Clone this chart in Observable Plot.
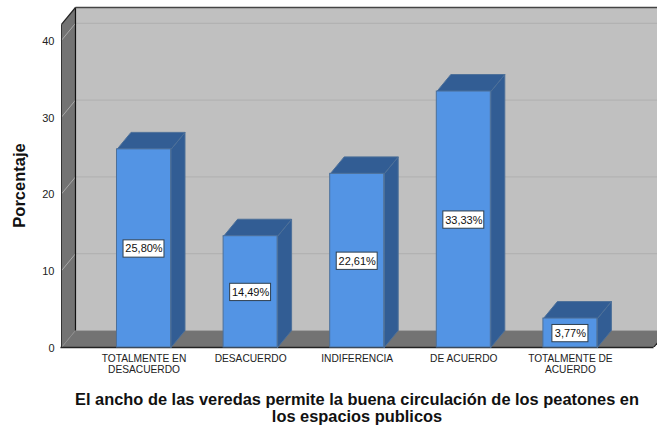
<!DOCTYPE html>
<html>
<head>
<meta charset="utf-8">
<script src="https://cdn.jsdelivr.net/npm/d3@7"></script>
<script src="https://cdn.jsdelivr.net/npm/@observablehq/plot@0.6"></script>
<style>
html,body{margin:0;padding:0;background:#fff;overflow:hidden}
svg{display:block}
</style>
</head>
<body>
<div id="chart"></div>
<script>
const categories = ["TOTALMENTE EN\nDESACUERDO","DESACUERDO","INDIFERENCIA","DE ACUERDO","TOTALMENTE DE\nACUERDO"];
const values = [25.80,14.49,22.61,33.33,3.77];
const yTicks = [0,10,20,30,40];
const yLabel = "Porcentaje";
const xTitle = "El ancho de las veredas permite la buena circulación de los peatones en\nlos espacios publicos";

const xMin=-0.7739, xMax=4.817, xEnd=4.78, half=0.2533, dx=0.1313, dy=2.21, yMax=44.27;
const font="Liberation Sans, Arial, sans-serif";
const wallBack="#c0c0c0", wallDark="#737373", front="#5394e4", shade="#325d94", edge="#4d7099", gridC="#afafaf";

const rows = values.map((v,i)=>({i,v,label:v.toFixed(2).replace(".",",")+"%"}));
const poly = (id,pts)=>pts.concat([pts[0]]).map(p=>({id,x:p[0],y:p[1]}));
const sides = rows.flatMap(r=>poly(r.i,[[r.i+half,0],[r.i+half+dx,dy],[r.i+half+dx,r.v+dy],[r.i+half,r.v]]));
const tops = rows.flatMap(r=>poly(r.i,[[r.i-half,r.v],[r.i+half,r.v],[r.i+half+dx,r.v+dy],[r.i-half+dx,r.v+dy]]));
const wall = poly("w",[[xMin+dx,dy],[xEnd+dx,dy],[xEnd+dx,yMax],[xMin+dx,yMax]]);
const leftWall = poly("l",[[xMin,0],[xMin+dx,dy],[xMin+dx,yMax],[xMin,yMax-dy]]);
const floor = poly("f",[[xMin,0],[xMin+dx,dy],[xEnd+dx,dy],[xEnd,0]]);
const boxW = r=>r.label.length>5?0.192:0.169;

const plot = Plot.plot({
  width:657,height:426,marginLeft:61,marginRight:0,marginTop:7,marginBottom:79,
  style:{background:"#fff",fontFamily:font},
  x:{type:"linear",domain:[xMin,xMax]},
  y:{domain:[0,yMax]},
  marks:[
    Plot.line(wall,{x:"x",y:"y",z:"id",fill:wallBack,stroke:"none",clip:true}),
    Plot.link(yTicks.slice(1),{x1:xMin+dx,x2:xEnd+dx,y1:d=>d+dy,y2:d=>d+dy,stroke:gridC,strokeWidth:1,clip:true}),
    Plot.line(leftWall,{x:"x",y:"y",z:"id",fill:wallDark,stroke:"none"}),
    Plot.link(yTicks.slice(1),{x1:xMin,x2:xMin+dx,y1:d=>d,y2:d=>d+dy,stroke:"#a8a8a8",strokeWidth:1}),
    Plot.line(floor,{x:"x",y:"y",z:"id",fill:wallDark,stroke:"none",clip:true}),
    Plot.link([0],{x1:xMin,x2:xMin+dx,y1:0,y2:dy,stroke:"#8c8c8c",strokeWidth:1}),
    Plot.link([0],{x1:xMin+dx,x2:xEnd+dx,y1:dy,y2:dy,stroke:"#a0a0a0",strokeWidth:1,clip:true}),
    Plot.link([0],{x1:xMin+dx,x2:xMin+dx,y1:dy,y2:yMax,stroke:"#111",strokeWidth:1.2}),
    Plot.link([0],{x1:xMin,x2:xMin,y1:0,y2:yMax-dy,stroke:"#333",strokeWidth:1}),
    Plot.link([0],{x1:xMin,x2:xMin+dx,y1:yMax-dy,y2:yMax,stroke:"#222",strokeWidth:1.2}),
    Plot.link([0],{x1:xMin+dx,x2:xMax,y1:yMax,y2:yMax,stroke:"#444",strokeWidth:1.4}),
    Plot.link([0],{x1:xMin-0.01,x2:xEnd,y1:0,y2:0,stroke:"#222",strokeWidth:1.4}),
    Plot.link([0],{x1:xEnd,x2:xEnd+dx,y1:0,y2:dy,stroke:"#222",strokeWidth:1.2,clip:true}),
    Plot.line(sides,{x:"x",y:"y",z:"id",fill:shade,stroke:edge,strokeWidth:1}),
    Plot.line(tops,{x:"x",y:"y",z:"id",fill:shade,stroke:edge,strokeWidth:1}),
    Plot.rect(rows,{x1:r=>r.i-half,x2:r=>r.i+half,y1:0,y2:r=>r.v,fill:front,stroke:edge,strokeWidth:1}),
    Plot.rect(rows,{x1:r=>r.i-boxW(r),x2:r=>r.i+boxW(r),y1:r=>r.v/2-1.2,y2:r=>r.v/2+1.05,fill:"#fff",stroke:"#2f4050",strokeWidth:1}),
    Plot.text(rows,{x:"i",y:r=>r.v/2,dy:0.5,text:"label",fontSize:11,fill:"#111"}),
    Plot.axisY({ticks:yTicks,tickSize:0,tickPadding:7,label:null,fontSize:11,color:"#222",dy:1}),
    Plot.axisX({ticks:d3.range(categories.length),tickSize:0,tickPadding:7,label:null,tickFormat:i=>categories[i],fontSize:10.2,lineHeight:1.05,color:"#222",lineAnchor:"top"}),
    Plot.text([yLabel],{frameAnchor:"left",textAnchor:"middle",rotate:-90,dx:-42,dy:8,fontSize:16.5,fontWeight:"bold",fill:"#111"}),
    Plot.text([xTitle],{frameAnchor:"bottom",lineAnchor:"bottom",dx:-2.5,dy:74,fontSize:16.4,fontWeight:"bold",fill:"#111",lineHeight:1.03})
  ]
});
document.getElementById("chart").appendChild(plot);
</script>
</body>
</html>
